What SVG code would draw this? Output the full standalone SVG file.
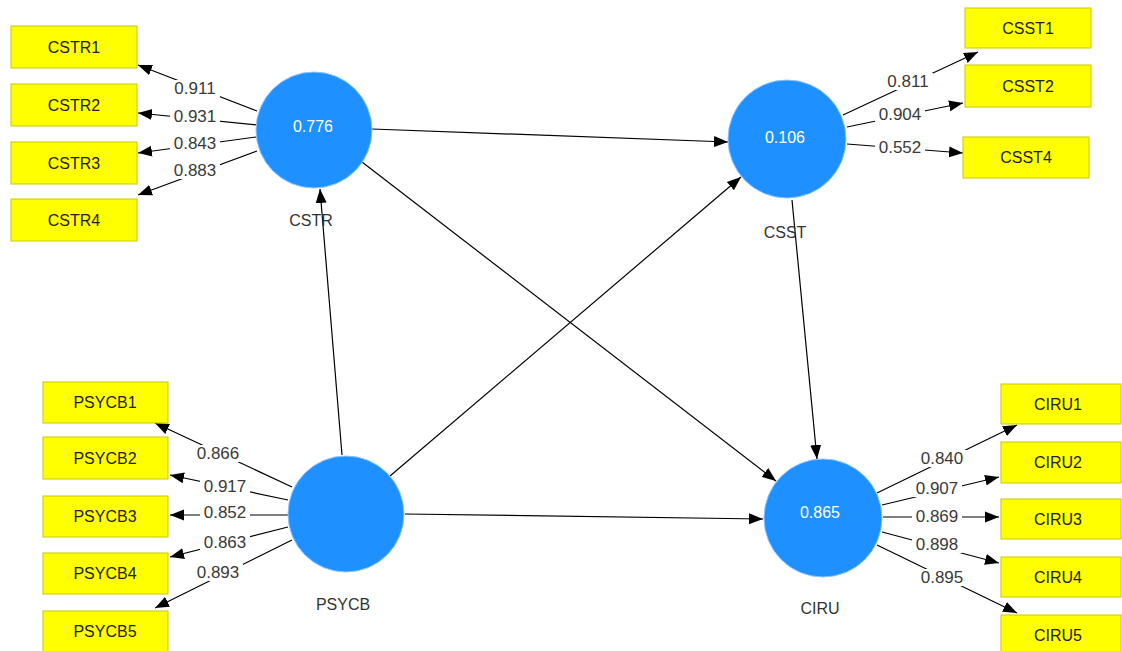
<svg xmlns="http://www.w3.org/2000/svg" width="1122" height="651" viewBox="0 0 1122 651">
<defs>
<marker id="ah" markerUnits="userSpaceOnUse" markerWidth="15" markerHeight="12" refX="14" refY="5.5" orient="auto" viewBox="0 0 15 11">
<path d="M0,0 L14,5.5 L0,11 z" fill="#000"/>
</marker>
</defs>
<style>
.box{fill:#ffff00;stroke:#c8c800;stroke-width:1}
.bt{font-family:"Liberation Sans",Arial,sans-serif;font-size:16px;fill:#222;text-anchor:middle;dominant-baseline:central}
.lv{fill:#1e90ff;stroke:#8cc4ff;stroke-width:1}
.lt{font-family:"Liberation Sans",Arial,sans-serif;font-size:16px;fill:#ffffff;text-anchor:middle;dominant-baseline:central}
.ln{font-family:"Liberation Sans",Arial,sans-serif;font-size:16px;fill:#333;text-anchor:middle;dominant-baseline:central}
.c{stroke:#000;stroke-width:1.2;fill:none;marker-end:url(#ah)}
.w{fill:#fff}
.lab{font-family:"Liberation Sans",Arial,sans-serif;font-size:17px;fill:#3a3a3a;text-anchor:middle;dominant-baseline:central}
</style>
<rect width="1122" height="651" fill="#fff"/>
<g id="connectors">
<line class="c" x1="372" y1="129" x2="728" y2="142"/>
<line class="c" x1="342" y1="455" x2="320" y2="189"/>
<line class="c" x1="390" y1="476" x2="741" y2="177"/>
<line class="c" x1="405" y1="514" x2="763" y2="519"/>
<line class="c" x1="362" y1="162" x2="776" y2="481"/>
<line class="c" x1="792" y1="200" x2="817" y2="459"/>
<line class="c" x1="257" y1="111" x2="138" y2="65"/>
<line class="c" x1="257" y1="125" x2="138" y2="113"/>
<line class="c" x1="256" y1="137" x2="138" y2="153"/>
<line class="c" x1="257" y1="151" x2="138" y2="195"/>
<line class="c" x1="843" y1="115" x2="978" y2="52"/>
<line class="c" x1="847" y1="127" x2="963" y2="103"/>
<line class="c" x1="847" y1="144" x2="963" y2="153"/>
<line class="c" x1="292" y1="487" x2="155" y2="423"/>
<line class="c" x1="288" y1="500" x2="170" y2="475"/>
<line class="c" x1="288" y1="515" x2="170" y2="515"/>
<line class="c" x1="288" y1="527" x2="170" y2="557"/>
<line class="c" x1="292" y1="540" x2="155" y2="608"/>
<line class="c" x1="877" y1="493" x2="1017" y2="425"/>
<line class="c" x1="882" y1="505" x2="999" y2="477"/>
<line class="c" x1="883" y1="517" x2="999" y2="517"/>
<line class="c" x1="882" y1="532" x2="999" y2="563"/>
<line class="c" x1="877" y1="545" x2="1017" y2="613"/>
<g id="loadings">
<rect class="w" x="170" y="80" width="50" height="17"/><text class="lab" x="195" y="88">0.911</text>
<rect class="w" x="170" y="108" width="50" height="17"/><text class="lab" x="195" y="116">0.931</text>
<rect class="w" x="170" y="135" width="50" height="17"/><text class="lab" x="195" y="143">0.843</text>
<rect class="w" x="170" y="162" width="50" height="17"/><text class="lab" x="195" y="170">0.883</text>
<rect class="w" x="883" y="73" width="50" height="17"/><text class="lab" x="908" y="81">0.811</text>
<rect class="w" x="875" y="106" width="50" height="17"/><text class="lab" x="900" y="114">0.904</text>
<rect class="w" x="875" y="139" width="50" height="17"/><text class="lab" x="900" y="147">0.552</text>
<rect class="w" x="193" y="445" width="50" height="17"/><text class="lab" x="218" y="453">0.866</text>
<rect class="w" x="200" y="478" width="50" height="17"/><text class="lab" x="225" y="486">0.917</text>
<rect class="w" x="200" y="504" width="50" height="17"/><text class="lab" x="225" y="512">0.852</text>
<rect class="w" x="200" y="534" width="50" height="17"/><text class="lab" x="225" y="542">0.863</text>
<rect class="w" x="193" y="564" width="50" height="17"/><text class="lab" x="218" y="572">0.893</text>
<rect class="w" x="917" y="450" width="50" height="17"/><text class="lab" x="942" y="458">0.840</text>
<rect class="w" x="912" y="480" width="50" height="17"/><text class="lab" x="937" y="488">0.907</text>
<rect class="w" x="912" y="508" width="50" height="17"/><text class="lab" x="937" y="516">0.869</text>
<rect class="w" x="912" y="536" width="50" height="17"/><text class="lab" x="937" y="544">0.898</text>
<rect class="w" x="917" y="569" width="50" height="17"/><text class="lab" x="942" y="577">0.895</text>
</g>
</g>
<g id="CSTR"><circle class="lv" cx="314" cy="130" r="58"/><text class="lt" x="313" y="126">0.776</text><text class="ln" x="311" y="220">CSTR</text></g>
<g id="CSST"><circle class="lv" cx="787" cy="139" r="59"/><text class="lt" x="785" y="137">0.106</text><text class="ln" x="785" y="232">CSST</text></g>
<g id="PSYCB"><circle class="lv" cx="346" cy="514" r="58"/><text class="ln" x="343" y="604">PSYCB</text></g>
<g id="CIRU"><circle class="lv" cx="823" cy="518" r="59"/><text class="lt" x="820" y="512">0.865</text><text class="ln" x="820" y="608">CIRU</text></g>
<g id="CSTR1"><rect class="box" x="11" y="26" width="126" height="42"/><text class="bt" x="74" y="47">CSTR1</text></g>
<g id="CSTR2"><rect class="box" x="11" y="84" width="126" height="42"/><text class="bt" x="74" y="105">CSTR2</text></g>
<g id="CSTR3"><rect class="box" x="11" y="142" width="126" height="42"/><text class="bt" x="74" y="163">CSTR3</text></g>
<g id="CSTR4"><rect class="box" x="11" y="199" width="126" height="42"/><text class="bt" x="74" y="220">CSTR4</text></g>
<g id="CSST1"><rect class="box" x="965" y="8" width="126" height="40"/><text class="bt" x="1028" y="28">CSST1</text></g>
<g id="CSST2"><rect class="box" x="965" y="65" width="126" height="42"/><text class="bt" x="1028" y="86">CSST2</text></g>
<g id="CSST4"><rect class="box" x="963" y="137" width="126" height="41"/><text class="bt" x="1026" y="157">CSST4</text></g>
<g id="PSYCB1"><rect class="box" x="43" y="382" width="125" height="41"/><text class="bt" x="105" y="402">PSYCB1</text></g>
<g id="PSYCB2"><rect class="box" x="43" y="437" width="125" height="42"/><text class="bt" x="105" y="458">PSYCB2</text></g>
<g id="PSYCB3"><rect class="box" x="43" y="496" width="125" height="41"/><text class="bt" x="105" y="516">PSYCB3</text></g>
<g id="PSYCB4"><rect class="box" x="43" y="553" width="125" height="41"/><text class="bt" x="105" y="573">PSYCB4</text></g>
<g id="PSYCB5"><rect class="box" x="43" y="611" width="125" height="41"/><text class="bt" x="105" y="631">PSYCB5</text></g>
<g id="CIRU1"><rect class="box" x="1001" y="384" width="120" height="40"/><text class="bt" x="1058" y="404">CIRU1</text></g>
<g id="CIRU2"><rect class="box" x="1001" y="442" width="120" height="41"/><text class="bt" x="1058" y="462">CIRU2</text></g>
<g id="CIRU3"><rect class="box" x="1001" y="499" width="120" height="40"/><text class="bt" x="1058" y="519">CIRU3</text></g>
<g id="CIRU4"><rect class="box" x="1001" y="557" width="120" height="40"/><text class="bt" x="1058" y="577">CIRU4</text></g>
<g id="CIRU5"><rect class="box" x="1001" y="615" width="120" height="40"/><text class="bt" x="1058" y="635">CIRU5</text></g>
</svg>
